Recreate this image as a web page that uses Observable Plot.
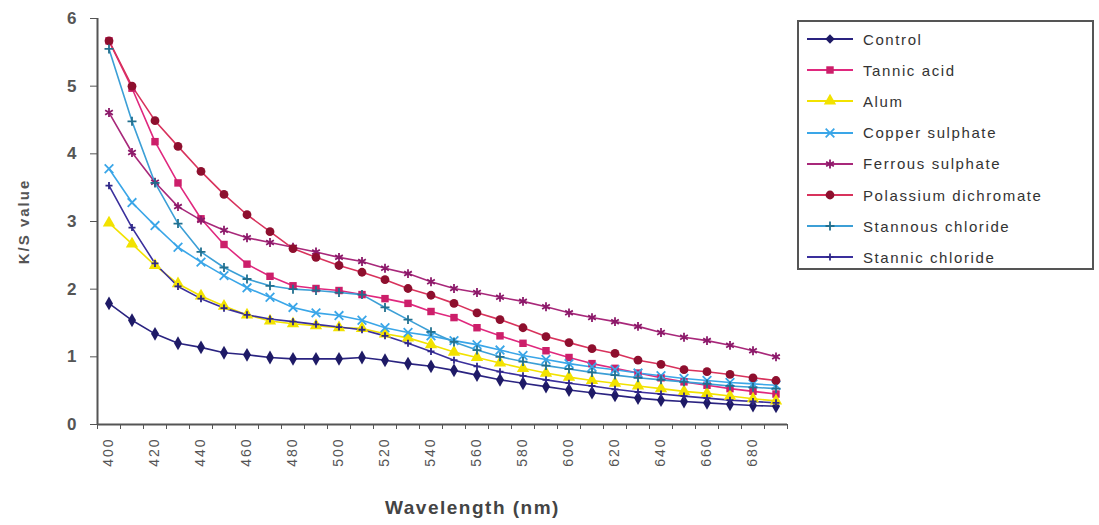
<!DOCTYPE html>
<html>
<head>
<meta charset="utf-8">
<script src="https://cdn.jsdelivr.net/npm/d3@7"></script>
<script src="https://cdn.jsdelivr.net/npm/@observablehq/plot@0.6"></script>
<style>
  html, body { margin: 0; padding: 0; background: #fff; }
  #wrap { position: relative; width: 1099px; height: 525px; overflow: hidden; font-family: "Liberation Sans", Arial, sans-serif; }
  #legend { position: absolute; left: 797px; top: 20px; width: 297px; height: 250px; border: 2px solid #555; box-sizing: border-box; background: #fff; }
  .item { position: absolute; left: 6px; height: 20px; display: flex; align-items: center; }
  .item span { margin-left: 8px; font-size: 15px; letter-spacing: 1.6px; color: #333; white-space: nowrap; }
</style>
</head>
<body>
<div id="wrap"><div id="chart"></div><div id="legend"></div></div>
<script>
// Categories (nm)
const wavelength = [400,410,420,430,440,450,460,470,480,490,500,510,520,530,540,550,560,570,580,590,600,610,620,630,640,650,660,670,680,690];
const xTickLabels = [400,420,440,460,480,500,520,540,560,580,600,620,640,660,680];
const yTicks = [0,1,2,3,4,5,6];

// Series values (K/S)
const control = [1.79,1.54,1.34,1.20,1.14,1.06,1.03,0.99,0.97,0.97,0.97,0.99,0.95,0.90,0.86,0.80,0.73,0.66,0.61,0.56,0.51,0.47,0.43,0.39,0.36,0.34,0.32,0.30,0.28,0.27];
const tannicAcid = [5.67,4.97,4.18,3.57,3.04,2.66,2.37,2.19,2.05,2.01,1.98,1.92,1.86,1.79,1.67,1.58,1.43,1.31,1.20,1.09,0.99,0.90,0.83,0.76,0.69,0.63,0.58,0.53,0.49,0.45];
const alum = [2.98,2.67,2.35,2.08,1.90,1.75,1.62,1.53,1.49,1.46,1.43,1.42,1.34,1.28,1.18,1.07,0.99,0.91,0.83,0.76,0.70,0.65,0.61,0.57,0.53,0.49,0.46,0.42,0.38,0.35];
const copperSulphate = [3.78,3.28,2.94,2.62,2.40,2.20,2.02,1.88,1.73,1.65,1.61,1.54,1.43,1.36,1.31,1.24,1.18,1.10,1.02,0.96,0.90,0.85,0.81,0.76,0.72,0.68,0.65,0.62,0.60,0.58];
const ferrousSulphate = [4.61,4.02,3.58,3.22,3.02,2.87,2.76,2.69,2.62,2.55,2.47,2.41,2.31,2.23,2.11,2.01,1.95,1.88,1.82,1.74,1.65,1.58,1.52,1.45,1.36,1.29,1.24,1.17,1.09,1.00];
const potassiumDichromate = [5.67,5.00,4.49,4.11,3.74,3.40,3.10,2.85,2.60,2.47,2.35,2.25,2.14,2.01,1.91,1.79,1.65,1.55,1.43,1.30,1.21,1.12,1.05,0.95,0.89,0.81,0.78,0.74,0.69,0.65];
const stannousChloride = [5.55,4.48,3.57,2.97,2.55,2.32,2.15,2.05,2.00,1.98,1.95,1.92,1.73,1.55,1.37,1.22,1.10,1.00,0.93,0.87,0.82,0.77,0.73,0.69,0.66,0.63,0.60,0.57,0.55,0.53];
const stannicChloride = [3.53,2.91,2.38,2.04,1.86,1.72,1.62,1.56,1.52,1.48,1.44,1.40,1.31,1.20,1.08,0.95,0.86,0.78,0.72,0.66,0.61,0.57,0.52,0.48,0.45,0.42,0.39,0.36,0.34,0.32];

const seriesNames = ["Control","Tannic acid","Alum","Copper sulphate","Ferrous sulphate","Polassium dichromate","Stannous chloride","Stannic chloride"];
const seriesValues = [control, tannicAcid, alum, copperSulphate, ferrousSulphate, potassiumDichromate, stannousChloride, stannicChloride];

// Styles
const lineColors   = ["#2a2380","#e0287e","#f2e200","#3aa6e8","#a8287a","#d8325c","#3c9fd6","#3a2f9c"];
const markerColors = ["#1e1a66","#cc1f6a","#f2e200","#3aa6e8","#8c1a6a","#8e0f2e","#22708f","#2f2788"];
const symbols      = ["diamond","square","triangle","times","asterisk","circle","plus","plus"];
const filled       = [true,true,true,false,false,true,false,false];
const radii        = [4.2,4.2,4.6,4,4.2,4.4,3,2.4];

const rows = seriesNames.map((name, i) => wavelength.map((w, j) => ({series: name, w, v: seriesValues[i][j]})));
const boundaries = wavelength.map(w => w - 5).concat([wavelength[wavelength.length - 1] + 5]);

const marks = [];
rows.forEach((r, i) => {
  marks.push(Plot.line(r, {x: "w", y: "v", stroke: lineColors[i], strokeWidth: 1.6}));
});
rows.forEach((r, i) => {
  const opts = {x: "w", y: "v", symbol: () => symbols[i], r: radii[i]};
  if (filled[i]) { opts.fill = markerColors[i]; opts.stroke = "none"; }
  else { opts.stroke = markerColors[i]; opts.strokeWidth = 1.8; opts.fill = "none"; }
  marks.push(Plot.dot(r, opts));
});

const chart = Plot.plot({
  width: 1099,
  height: 525,
  marginLeft: 97,
  marginRight: 312,
  marginTop: 18,
  marginBottom: 101,
  style: {fontFamily: "Liberation Sans, Arial, sans-serif", background: "transparent"},
  x: {domain: [395, 695]},
  y: {domain: [0, 6]},
  symbol: {type: "identity"},
  marks: [
    Plot.axisY({ticks: yTicks, tickFormat: "d", tickSize: 7, tickPadding: 14, fontSize: 17, fontWeight: "bold", fill: "#555", stroke: "#555", label: "K/S value", labelAnchor: "center", labelArrow: "none", labelOffset: 79}),
    Plot.axisX({ticks: boundaries, tickSize: 5, stroke: "#555", text: null, label: null}),
    Plot.axisX({ticks: xTickLabels, tickSize: 0, tickPadding: 13, tickRotate: -90, fontSize: 14, fill: "#555", label: null}),
    Plot.text(["Wavelength (nm)"], {frameAnchor: "bottom", dx: 30, dy: 89, fontSize: 19, fontWeight: "bold", fill: "#444"}),
    ...marks,
    Plot.ruleX([395], {stroke: "#555", strokeWidth: 2}),
    Plot.ruleY([0], {stroke: "#555", strokeWidth: 2})
  ]
});
document.getElementById("chart").appendChild(chart);

// style the y label & tick text spacing
d3.select(chart).selectAll("[aria-label='y-axis label'] text").attr("font-size", 15).attr("font-weight", "bold").attr("fill", "#555").style("letter-spacing", "2px");
d3.select(chart).selectAll("[aria-label='x-axis tick label'] text").style("letter-spacing", "2px");
d3.select(chart).selectAll("[aria-label='text'] text").style("letter-spacing", "1.5px");

// Legend
const legend = d3.select("#legend");
seriesNames.forEach((name, i) => {
  const item = legend.append("div").attr("class", "item").style("top", (7 + i * 31.2) + "px");
  const svg = item.append("svg").attr("width", 50).attr("height", 20);
  svg.append("line").attr("x1", 2).attr("x2", 48).attr("y1", 10).attr("y2", 10).attr("stroke", lineColors[i]).attr("stroke-width", 1.8);
  const sym = d3.symbol().type({
    diamond: d3.symbolDiamond2, square: d3.symbolSquare, triangle: d3.symbolTriangle, times: d3.symbolTimes,
    asterisk: d3.symbolAsterisk, circle: d3.symbolCircle, plus: d3.symbolPlus
  }[symbols[i]]).size(Math.PI * radii[i] * radii[i]);
  const p = svg.append("path").attr("d", sym()).attr("transform", "translate(25,10)");
  if (filled[i]) p.attr("fill", markerColors[i]);
  else p.attr("fill", "none").attr("stroke", markerColors[i]).attr("stroke-width", 1.8);
  item.append("span").text(name);
});
</script>
</body>
</html>
